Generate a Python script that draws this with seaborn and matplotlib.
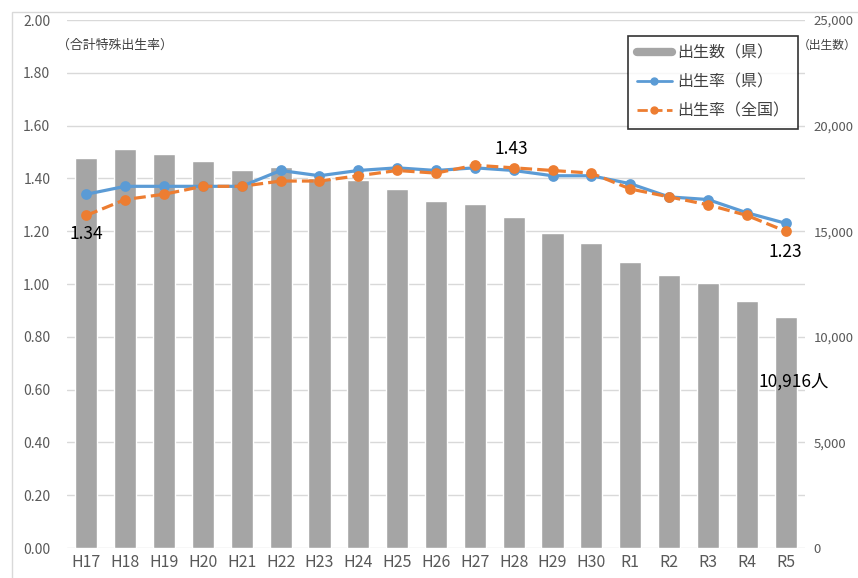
import numpy as np
import pandas as pd
import matplotlib
matplotlib.use("Agg")
import matplotlib.pyplot as plt
from matplotlib.lines import Line2D
from matplotlib.patches import Rectangle
import seaborn as sns

# ------------------------------------------
# Data
# ------------------------------------------

years = ["H17", "H18", "H19", "H20", "H21", "H22", "H23", "H24", "H25", "H26",
         "H27", "H28", "H29", "H30", "R1", "R2", "R3", "R4", "R5"]

births_pref = [18470, 18890, 18670, 18310, 17900, 18030, 17520, 17420, 17010, 16440,
               16290, 15670, 14930, 14440, 13540, 12930, 12550, 11700, 10916]

tfr_pref = [1.34, 1.37, 1.37, 1.37, 1.37, 1.43, 1.41, 1.43, 1.44, 1.43,
            1.44, 1.43, 1.41, 1.41, 1.38, 1.33, 1.32, 1.27, 1.23]

tfr_japan = [1.26, 1.32, 1.34, 1.37, 1.37, 1.39, 1.39, 1.41, 1.43, 1.42,
             1.45, 1.44, 1.43, 1.42, 1.36, 1.33, 1.30, 1.26, 1.20]

df = pd.DataFrame({"year": years, "births": births_pref,
                   "tfr_pref": tfr_pref, "tfr_japan": tfr_japan})

# ------------------------------------------
# Style
# ------------------------------------------

sns.set_style("white")
plt.rcParams["font.family"] = ["Noto Sans CJK JP", "DejaVu Sans"]

BAR = "#a5a5a5"
BLUE = "#5b9bd5"
ORANGE = "#ed7d31"
TICK = "#595959"

fig = plt.figure(figsize=(8.58, 5.78), dpi=100)
ax = fig.add_axes([67/858, 30/578, 738/858, 528/578])
ax2 = ax.twinx()

# bars on the right axis (births)
sns.barplot(data=df, x="year", y="births", color=BAR, saturation=1,
            width=0.57, ax=ax2)

# lines on the left axis (rates)
sns.pointplot(data=df, x="year", y="tfr_pref", color=BLUE, marker="o",
              markersize=6, linewidth=2.3, errorbar=None, ax=ax)
sns.pointplot(data=df, x="year", y="tfr_japan", color=ORANGE, marker="o",
              markersize=6, linewidth=2.3, linestyle="--", errorbar=None, ax=ax)

# draw lines above bars
ax.set_zorder(ax2.get_zorder() + 1)
ax.patch.set_visible(False)

ax.set_xlim(-0.5, len(years) - 0.5)
ax.set_ylim(0, 2.0)
ax2.set_ylim(0, 25000)

ax.set_yticks(np.arange(0, 2.01, 0.2))
ax.set_yticklabels([f"{v:.2f}" for v in np.arange(0, 2.01, 0.2)])
ax2.set_yticks(np.arange(0, 25001, 2500))
ax2.set_yticklabels([f"{int(v):,}" if v % 5000 == 0 else "" for v in np.arange(0, 25001, 2500)])

ax.tick_params(axis="y", length=0, pad=12, labelsize=10, labelcolor=TICK)
ax2.tick_params(axis="y", length=0, pad=6, labelsize=9.5, labelcolor=TICK)
ax.tick_params(axis="x", length=0, pad=4, labelsize=11.5, labelcolor=TICK)

ax2.grid(axis="y", color="#d9d9d9", linewidth=1)
ax2.set_axisbelow(True)
ax.grid(False)

for a in (ax, ax2):
    a.set_xlabel("")
    a.set_ylabel("")
    for s in a.spines.values():
        s.set_visible(False)

# ------------------------------------------
# Annotations
# ------------------------------------------

ax.text(0, 1.19, "1.34", ha="center", va="center", fontsize=12.5, color="black")
ax.text(10.95, 1.51, "1.43", ha="center", va="center", fontsize=12.5, color="black")
ax.text(18, 1.12, "1.23", ha="center", va="center", fontsize=12.5, color="black")
ax.text(18.2, 0.63, "10,916人", ha="center", va="center", fontsize=12.5, color="black")

fig.text(57/858, 1 - 45/578, "（合計特殊出生率）", ha="left", va="center",
         fontsize=9.3, color="#404040")
fig.text(798/858, 1 - 45/578, "（出生数）", ha="left", va="center",
         fontsize=8.5, color="#404040")

# ------------------------------------------
# Legend
# ------------------------------------------

handles = [
    Line2D([0], [0], color=BAR, linewidth=6),
    Line2D([0], [0], color=BLUE, linewidth=2, marker="o", markersize=5),
    Line2D([0], [0], color=ORANGE, linewidth=2, linestyle="--", marker="o", markersize=5),
]
labels = ["出生数（県）", "出生率（県）", "出生率（全国）"]
leg = fig.legend(handles, labels, loc="upper left",
                 bbox_to_anchor=(628/858, 1 - 36/578), borderaxespad=0,
                 fontsize=11.5, frameon=True, fancybox=False, handlelength=2.2,
                 borderpad=0.55, labelspacing=0.75, handletextpad=0.3)
leg.get_frame().set_edgecolor("black")
leg.get_frame().set_linewidth(1.2)
for t in leg.get_texts():
    t.set_color("#404040")

# chart area border
fig.patches.append(Rectangle((12/858, -0.05), 1.1, 1 - 12/578 + 0.05,
                             transform=fig.transFigure, fill=False,
                             edgecolor="#d9d9d9", linewidth=1))

fig.savefig("out.png", dpi=100)
